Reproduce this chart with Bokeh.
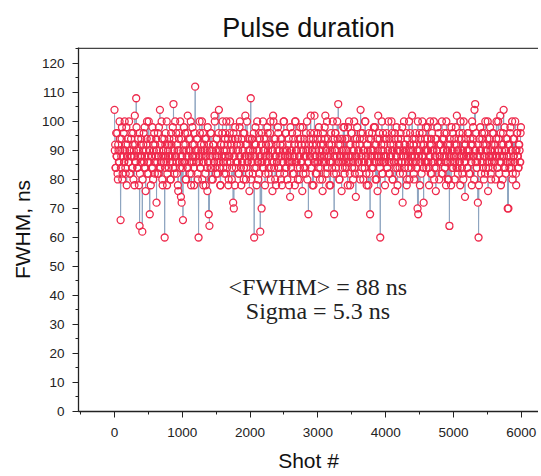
from bokeh.plotting import figure
from bokeh.models import Range1d, SingleIntervalTicker, Label, ColumnDataSource, Span
from bokeh.embed import file_html
from bokeh.resources import INLINE

# Pulse FWHM (ns): shots 0, 10, 20, ...
fwhm_even = [
    104, 92, 84, 88, 96, 80, 90, 86, 94, 66, 88, 98, 82, 90, 86, 100, 84, 92, 78, 88,
    94, 86, 90, 82, 88, 96, 84, 92, 80, 88, 102, 86, 108, 90, 84, 94, 78, 64, 88, 92,
    86, 62, 90, 96, 84, 88, 76, 92, 100, 86, 82, 90, 68, 94, 88, 84, 98, 80, 90, 86,
    92, 88, 72, 86, 96, 82, 90, 104, 84, 88, 94, 78, 90, 86, 60, 92, 88, 100, 82, 90,
    84, 94, 88, 80, 92, 86, 98, 106, 90, 84, 88, 96, 82, 90, 76, 94, 86, 100, 74, 72,
    88, 66, 92, 86, 96, 80, 90, 84, 102, 88, 94, 82, 90, 78, 86, 98, 88, 84, 92, 112,
    90, 86, 94, 80, 60, 88, 96, 84, 90, 100, 86, 78, 92, 88, 82, 94, 90, 76, 86, 68,
    64, 88, 96, 84, 90, 80, 92, 86, 100, 88, 82, 94, 86, 90, 104, 84, 78, 92, 88, 96,
    86, 90, 82, 94, 88, 100, 84, 92, 78, 88, 96, 86, 90, 80, 94, 72, 70, 88, 98, 84,
    90, 86, 94, 82, 88, 100, 92, 78, 86, 90, 96, 84, 88, 102, 80, 92, 86, 94, 88, 76,
    90, 108, 86, 94, 82, 88, 60, 92, 98, 84, 90, 86, 80, 96, 88, 62, 92, 70, 86, 100,
    84, 90, 78, 94, 88, 86, 96, 82, 92, 88, 100, 84, 90, 76, 102, 86, 94, 80, 88, 92,
    86, 98, 84, 90, 82, 94, 88, 78, 92, 86, 100, 88, 84, 96, 90, 80, 88, 94, 86, 74,
    90, 86, 96, 82, 88, 92, 78, 100, 86, 90, 84, 94, 88, 80, 98, 86, 92, 76, 90, 84,
    94, 88, 82, 90, 100, 86, 68, 92, 88, 96, 84, 90, 78, 94, 86, 102, 88, 82, 92, 86,
    96, 84, 90, 80, 88, 94, 86, 76, 92, 88, 98, 102, 86, 90, 82, 94, 88, 78, 90, 86,
    92, 84, 100, 88, 68, 90, 96, 82, 88, 94, 106, 86, 80, 92, 88, 76, 94, 86, 90, 98,
    84, 90, 86, 94, 78, 88, 100, 82, 92, 86, 96, 88, 80, 90, 84, 94, 74, 88, 98, 86,
    90, 82, 94, 104, 88, 86, 96, 80, 90, 84, 100, 88, 78, 92, 86, 94, 82, 68, 90, 88,
    96, 84, 90, 86, 98, 80, 92, 88, 76, 102, 86, 94, 60, 88, 90, 82, 96, 86, 92, 78,
    88, 94, 84, 90, 100, 86, 82, 92, 88, 96, 80, 90, 86, 94, 76, 88, 98, 84, 90, 86,
    92, 82, 96, 88, 86, 72, 90, 100, 84, 92, 88, 78, 94, 86, 90, 80, 96, 88, 84, 102,
    86, 92, 80, 88, 94, 84, 90, 70, 68, 88, 96, 86, 92, 82, 100, 88, 72, 90, 94, 86,
    84, 90, 98, 86, 78, 92, 88, 94, 82, 90, 86, 100, 84, 88, 76, 94, 90, 86, 96, 80,
    88, 92, 86, 100, 82, 90, 94, 84, 88, 78, 96, 86, 90, 80, 64, 92, 88, 98, 84, 90,
    86, 94, 80, 88, 92, 102, 84, 90, 86, 96, 78, 88, 94, 82, 90, 100, 86, 74, 92, 88,
    84, 96, 90, 82, 88, 94, 86, 78, 92, 98, 88, 104, 106, 90, 84, 86, 72, 60, 94, 88,
    90, 82, 96, 86, 92, 80, 88, 100, 84, 90, 94, 76, 88, 86, 98, 82, 92, 88, 84, 96,
    86, 90, 80, 94, 88, 84, 100, 90, 86, 102, 78, 92, 88, 96, 104, 84, 90, 82, 94, 88,
    70, 70, 92, 86, 98, 84, 90, 80, 94, 88, 86, 100, 82, 90, 96, 88, 84, 92, 86, 96,
]
# Pulse FWHM (ns): shots 5, 15, 25, ...
fwhm_odd = [
    90, 84, 96, 88, 82, 92, 86, 100, 90, 84, 94, 80, 88, 96, 86, 90, 82, 98, 88, 92,
    86, 100, 82, 90, 94, 88, 84, 96, 90, 78, 92, 86, 98, 84, 88, 90, 96, 82, 86, 94,
    88, 80, 92, 86, 98, 84, 90, 94, 82, 88, 100, 86, 90, 78, 94, 88, 84, 92, 96, 82,
    86, 94, 90, 82, 88, 98, 84, 92, 86, 100, 80, 90, 88, 94, 84, 96, 86, 78, 92, 88,
    92, 86, 80, 96, 88, 90, 84, 94, 82, 100, 88, 86, 92, 78, 90, 96, 84, 88, 94, 86,
    84, 90, 98, 86, 92, 80, 88, 96, 84, 90, 86, 94, 100, 82, 88, 92, 86, 78, 96, 90,
    88, 94, 82, 90, 86, 100, 84, 92, 88, 80, 96, 86, 90, 94, 78, 88, 84, 98, 86, 92,
    90, 84, 96, 80, 88, 92, 86, 102, 84, 90, 94, 88, 82, 96, 86, 90, 78, 92, 88, 100,
    84, 92, 88, 96, 82, 90, 86, 94, 80, 88, 100, 86, 92, 84, 90, 96, 88, 78, 94, 86,
    92, 86, 90, 82, 98, 88, 84, 94, 86, 90, 80, 96, 88, 92, 84, 100, 86, 90, 82, 94,
    88, 80, 94, 86, 90, 96, 84, 88, 92, 78, 100, 86, 90, 82, 94, 88, 86, 96, 84, 90,
    94, 88, 82, 92, 86, 98, 90, 84, 88, 96, 80, 92, 86, 90, 100, 84, 88, 94, 78, 86,
    90, 96, 84, 88, 92, 80, 94, 86, 90, 100, 82, 88, 96, 84, 90, 86, 92, 78, 88, 98,
    84, 90, 86, 94, 82, 88, 100, 90, 86, 96, 80, 92, 88, 84, 94, 90, 86, 98, 82, 88,
    92, 84, 96, 88, 80, 90, 86, 94, 88, 102, 84, 90, 92, 78, 96, 86, 88, 90, 82, 94,
    86, 98, 88, 84, 92, 90, 80, 96, 86, 88, 94, 82, 90, 100, 84, 88, 92, 86, 78, 96,
    90, 86, 94, 82, 88, 96, 84, 90, 100, 86, 92, 80, 88, 94, 86, 90, 84, 98, 88, 82,
    94, 88, 84, 90, 98, 86, 92, 78, 88, 96, 84, 90, 86, 100, 82, 92, 88, 94, 86, 90,
    86, 92, 80, 96, 88, 84, 90, 94, 86, 100, 88, 82, 92, 90, 78, 96, 86, 88, 94, 84,
    90, 84, 98, 88, 92, 86, 80, 94, 90, 88, 96, 84, 86, 92, 100, 82, 90, 88, 94, 86,
    88, 96, 84, 90, 82, 94, 88, 86, 100, 90, 80, 92, 86, 96, 84, 88, 90, 78, 94, 92,
    84, 90, 94, 86, 98, 82, 88, 92, 86, 90, 96, 80, 88, 84, 100, 92, 86, 90, 88, 94,
    90, 82, 88, 96, 86, 92, 84, 100, 88, 90, 78, 94, 86, 88, 96, 84, 92, 86, 90, 98,
    86, 94, 90, 84, 88, 100, 82, 92, 96, 86, 90, 80, 88, 94, 84, 90, 98, 86, 92, 88,
    92, 86, 82, 94, 90, 88, 96, 84, 86, 100, 90, 80, 92, 88, 94, 86, 78, 90, 96, 84,
    88, 92, 86, 98, 84, 90, 82, 94, 88, 86, 100, 90, 84, 96, 80, 88, 92, 86, 94, 90,
    84, 96, 88, 90, 82, 92, 86, 100, 88, 94, 80, 90, 86, 96, 84, 88, 92, 78, 90, 98,
    90, 86, 94, 84, 88, 96, 82, 90, 92, 86, 100, 84, 88, 94, 90, 80, 86, 96, 88, 92,
    86, 92, 88, 100, 84, 90, 94, 82, 88, 96, 86, 90, 80, 92, 88, 98, 84, 90, 86, 94,
    92, 88, 84, 96, 90, 86, 100, 82, 88, 94, 86, 90, 78, 96, 88, 84, 92, 90, 86, 98,
]
shot_step = 5

title_text = "Pulse duration"
x_label = "Shot #"
y_label = "FWHM, ns"
note_mean = "<FWHM> = 88 ns"
note_sigma = "Sigma = 5.3 ns"

fwhm = []
for a, b in zip(fwhm_even, fwhm_odd):
    fwhm.extend([a, b])
shot = [i * shot_step for i in range(len(fwhm))]

src = ColumnDataSource(dict(shot=shot, fwhm=fwhm))

Y_TOP = 125.5
p = figure(width=538, height=474,
           x_range=Range1d(-531, 6254), y_range=Range1d(0, Y_TOP),
           output_backend="svg", toolbar_location=None,
           min_border_left=78, min_border_right=0,
           min_border_top=47, min_border_bottom=63)

p.title.text = title_text
p.title.text_font = "Liberation Sans"
p.title.text_font_size = "27px"
p.title.text_font_style = "normal"
p.title.text_color = "#111111"
p.title.align = "center"
p.title.offset = -4
p.title.standoff = 9

p.xgrid.visible = False
p.ygrid.visible = False
p.outline_line_color = None
p.background_fill_color = "white"
p.border_fill_color = "white"

p.xaxis.ticker = SingleIntervalTicker(interval=1000, num_minor_ticks=2)
p.yaxis.ticker = SingleIntervalTicker(interval=10, num_minor_ticks=2)
p.xaxis.axis_label = x_label
p.yaxis.axis_label = y_label

for ax in (p.xaxis, p.yaxis):
    ax.axis_line_color = "#222222"
    ax.axis_line_width = 1.3
    ax.major_tick_line_color = "#222222"
    ax.minor_tick_line_color = "#222222"
    ax.major_tick_in = 0
    ax.major_tick_out = 6
    ax.minor_tick_in = 0
    ax.minor_tick_out = 3
    ax.major_label_text_font = "Liberation Sans"
    ax.major_label_text_font_size = "13.5px"
    ax.major_label_text_color = "#222222"
    ax.axis_label_text_font = "Liberation Sans"
    ax.axis_label_text_font_style = "normal"
    ax.axis_label_text_font_size = "21px"
    ax.axis_label_text_color = "#111111"

p.xaxis.major_label_standoff = 10
p.xaxis.axis_label_standoff = 9
p.yaxis.major_label_standoff = 8
p.yaxis.axis_label_standoff = 5

# top border of the frame
p.add_layout(Span(location=Y_TOP - 0.25, dimension="width",
                  line_color="#444444", line_width=1.6))

p.line(x="shot", y="fwhm", source=src, line_color="#8ea5c0", line_width=1)
p.scatter(x="shot", y="fwhm", source=src, marker="circle", size=7,
          line_color=None, fill_color="white")
p.scatter(x="shot", y="fwhm", source=src, marker="circle", size=7,
          line_color="#ee2a4c", line_width=1.3, fill_color=None)

p.add_layout(Label(x=3000, y=38.6, text=note_mean, text_align="center",
                   text_font="Liberation Serif", text_font_size="24px",
                   text_color="#222222"))
p.add_layout(Label(x=3000, y=30, text=note_sigma, text_align="center",
                   text_font="Liberation Serif", text_font_size="24px",
                   text_color="#222222"))

open("out.html", "w").write(file_html(p, INLINE))
